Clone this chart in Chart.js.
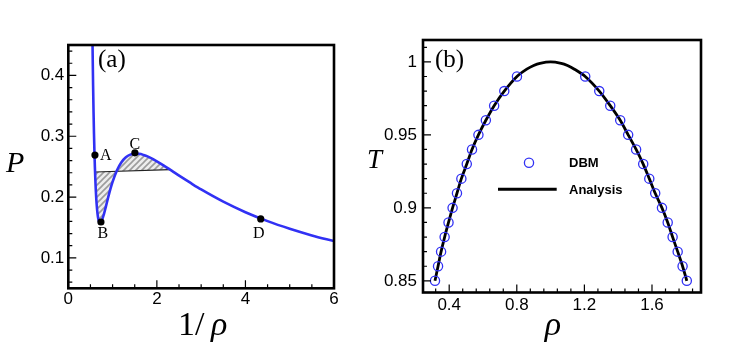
<!DOCTYPE html>
<html>
<head>
<meta charset="utf-8">
<script src="https://cdn.jsdelivr.net/npm/chart.js@4.4.1/dist/chart.umd.min.js"></script>
<style>
html, body { margin: 0; padding: 0; background: #fff; }
#wrap { position: relative; width: 747px; height: 349px; overflow: hidden; }
#boxA { position: absolute; left: 0; top: 0; }
#boxB { position: absolute; left: 360px; top: 0; }
</style>
</head>
<body>
<div id="wrap">
  <div id="boxA"><canvas id="chartA" width="360" height="349"></canvas></div>
  <div id="boxB"><canvas id="chartB" width="387" height="349"></canvas></div>
</div>
<script>
// (a) isotherm, pressure against specific volume 1/rho
var isoV = [0.54, 0.55, 0.56, 0.57, 0.58, 0.59, 0.60, 0.61, 0.62, 0.64, 0.66, 0.68, 0.70, 0.72, 0.75, 0.80,
    0.85, 0.90, 0.95, 1.0, 1.1, 1.2, 1.3, 1.4, 1.5, 1.6, 1.7, 1.8, 2.0, 2.2, 2.4, 2.6, 2.8, 3.0, 3.5, 4.0,
    4.5, 5.0, 5.5, 6.0];
var isoP = [0.4968, 0.4348, 0.3832, 0.3402, 0.3044, 0.2747, 0.2500, 0.2296, 0.2129, 0.1882, 0.1725, 0.1632,
    0.1586, 0.1575, 0.1600, 0.1708, 0.1848, 0.1993, 0.2130, 0.2250, 0.2441, 0.2572, 0.2653, 0.2698, 0.2714,
    0.2711, 0.2692, 0.2664, 0.2588, 0.2497, 0.2402, 0.2307, 0.2214, 0.2125, 0.1924, 0.1751, 0.1604, 0.1479,
    0.1370, 0.1276];
// equal-area line and the part of the isotherm it cuts off
var lineV = [0.604, 2.30];
var lineP = [0.2412, 0.2452];
var hatchV = [0.604, 0.61, 0.62, 0.64, 0.66, 0.68, 0.70, 0.72, 0.75, 0.80, 0.85, 0.90, 0.95, 1.0, 1.1, 1.2,
    1.3, 1.4, 1.5, 1.6, 1.7, 1.8, 2.0, 2.2, 2.3];
var hatchP = [0.2414, 0.2296, 0.2129, 0.1882, 0.1725, 0.1632, 0.1586, 0.1575, 0.1600, 0.1708, 0.1848, 0.1993,
    0.2130, 0.2250, 0.2441, 0.2572, 0.2653, 0.2698, 0.2714, 0.2711, 0.2692, 0.2664, 0.2588, 0.2497, 0.2450];
var stateNames = ["A", "B", "C", "D"];
var stateV = [0.602, 0.737, 1.504, 4.345];
var stateP = [0.269, 0.159, 0.2728, 0.164];
var xTicksA = [0, 2, 4, 6];
var yTicksA = [0.1, 0.2, 0.3, 0.4];

// (b) coexistence curve
var dbmT = [0.85, 0.86, 0.87, 0.88, 0.89, 0.90, 0.91, 0.92, 0.93, 0.94, 0.95, 0.96, 0.97, 0.98, 0.99];
var dbmGasRho = [0.316, 0.334, 0.352, 0.373, 0.396, 0.420, 0.446, 0.472, 0.504, 0.535, 0.573, 0.617, 0.666,
    0.726, 0.801];
var dbmLiqRho = [1.806, 1.781, 1.752, 1.722, 1.693, 1.659, 1.619, 1.584, 1.548, 1.506, 1.459, 1.412, 1.353,
    1.288, 1.205];
var fitRho = [0.316, 0.334, 0.352, 0.373, 0.396, 0.420, 0.446, 0.472, 0.504, 0.535, 0.573, 0.617, 0.666,
    0.726, 0.801, 0.859, 0.900, 0.937, 1.000, 1.063, 1.100, 1.141, 1.205, 1.288, 1.353, 1.412, 1.459, 1.506,
    1.548, 1.584, 1.619, 1.659, 1.693, 1.722, 1.752, 1.781, 1.806];
var fitT = [0.85, 0.86, 0.87, 0.88, 0.89, 0.90, 0.91, 0.92, 0.93, 0.94, 0.95, 0.96, 0.97, 0.98, 0.99, 0.995,
    0.9975, 0.999, 1.0, 0.999, 0.9975, 0.995, 0.99, 0.98, 0.97, 0.96, 0.95, 0.94, 0.93, 0.92, 0.91, 0.90,
    0.89, 0.88, 0.87, 0.86, 0.85];
var xTicksB = [0.4, 0.8, 1.2, 1.6];
var yTicksB = [0.85, 0.9, 0.95, 1];

var SANS = "'Liberation Sans', Arial, sans-serif";
var SERIF = "'Liberation Serif', 'Times New Roman', serif";
var BLUE = "#3131f4";

Chart.defaults.color = "#000";
Chart.defaults.font.family = SANS;
Chart.defaults.font.size = 17;

function xy(xs, ys) {
    return xs.map(function (x, i) { return { x: x, y: ys[i] }; });
}

function hatchPattern() {
    var c = document.createElement("canvas");
    c.width = 6;
    c.height = 6;
    var g = c.getContext("2d");
    g.fillStyle = "#ededed";
    g.fillRect(0, 0, 6, 6);
    g.strokeStyle = "#9c9c9c";
    g.lineWidth = 1.6;
    g.beginPath();
    g.moveTo(0, 6); g.lineTo(6, 0);
    g.moveTo(-1, 1); g.lineTo(1, -1);
    g.moveTo(5, 7); g.lineTo(7, 5);
    g.stroke();
    return g.createPattern(c, "repeat");
}

function minorValues(min, max, step) {
    var out = [];
    var n0 = Math.ceil(min / step - 1e-6);
    for (var n = n0; n * step <= max + 1e-9; n++) out.push(n * step);
    return out;
}

// box round the plot, ticks pointing in, then the text
var framePlugin = {
    id: "frame",
    afterDraw: function (chart, args, opts) {
        var ctx = chart.ctx, a = chart.chartArea;
        var xs = chart.scales.x, ys = chart.scales.y;
        ctx.save();
        ctx.strokeStyle = "#000";
        ctx.lineWidth = 1.2;
        ctx.beginPath();
        minorValues(xs.min, xs.max, opts.xMinor).forEach(function (v) {
            var px = xs.getPixelForValue(v);
            ctx.moveTo(px, a.bottom); ctx.lineTo(px, a.bottom - 4);
        });
        minorValues(ys.min, ys.max, opts.yMinor).forEach(function (v) {
            var py = ys.getPixelForValue(v);
            ctx.moveTo(a.left, py); ctx.lineTo(a.left + 4, py);
        });
        xs.ticks.forEach(function (t) {
            var px = xs.getPixelForValue(t.value);
            ctx.moveTo(px, a.bottom); ctx.lineTo(px, a.bottom - 8);
        });
        ys.ticks.forEach(function (t) {
            var py = ys.getPixelForValue(t.value);
            ctx.moveTo(a.left, py); ctx.lineTo(a.left + 8, py);
        });
        ctx.stroke();
        ctx.lineWidth = 2.6;
        ctx.strokeRect(a.left, a.top, a.right - a.left, a.bottom - a.top);

        ctx.fillStyle = "#000";
        (opts.notes || []).forEach(function (n) {
            ctx.font = n.font;
            ctx.textAlign = n.align || "left";
            ctx.textBaseline = "alphabetic";
            ctx.fillText(n.text, n.x, n.y);
        });
        if (opts.after) opts.after(chart, ctx);
        ctx.restore();
    }
};

function axisX(min, max, ticks, height, pad) {
    return {
        type: "linear", min: min, max: max,
        grid: { display: false, drawTicks: false }, border: { display: false },
        ticks: { padding: pad, maxRotation: 0, callback: function (v) { return String(v); } },
        afterBuildTicks: function (s) { s.ticks = ticks.map(function (v) { return { value: v }; }); },
        afterFit: function (s) { s.height = height; }
    };
}

function axisY(min, max, ticks, width, pad) {
    return {
        type: "linear", min: min, max: max,
        grid: { display: false, drawTicks: false }, border: { display: false },
        ticks: { padding: pad, callback: function (v) { return String(v); } },
        afterBuildTicks: function (s) { s.ticks = ticks.map(function (v) { return { value: v }; }); },
        afterFit: function (s) { s.width = width; }
    };
}

var stateOffsets = { A: [5, 4.5, "left"], B: [2, 16, "center"], C: [0, -4, "center"], D: [-2, 19, "center"] };

new Chart(document.getElementById("chartA"), {
    type: "line",
    data: {
        datasets: [
            { data: xy(stateV, stateP), showLine: false, pointRadius: 3.6, pointBackgroundColor: "#000",
              pointBorderWidth: 0 },
            { data: xy(isoV, isoP), borderColor: BLUE, borderWidth: 2.6, pointRadius: 0,
              cubicInterpolationMode: "monotone", fill: false },
            { data: xy(lineV, lineP), borderColor: "#222", borderWidth: 1.2, pointRadius: 0, fill: false },
            { data: xy(hatchV, hatchP), borderWidth: 0, borderColor: "rgba(0,0,0,0)", pointRadius: 0,
              cubicInterpolationMode: "monotone", fill: "-1", backgroundColor: hatchPattern() }
        ]
    },
    options: {
        responsive: false,
        animation: false,
        layout: { padding: { top: 45, right: 26, left: 0, bottom: 0 } },
        plugins: {
            legend: { display: false },
            tooltip: { enabled: false },
            frame: {
                xMinor: 0.5, yMinor: 0.02,
                notes: [
                    { text: "(a)", x: 98, y: 67, font: "25px " + SERIF },
                    { text: "P", x: 6, y: 172, font: "italic 30px " + SERIF },
                    { text: "1/", x: 178, y: 335, font: "34px " + SERIF },
                    { text: "\u03c1", x: 211, y: 335, font: "italic 34px " + SERIF }
                ],
                after: function (chart, ctx) {
                    var xs = chart.scales.x, ys = chart.scales.y;
                    ctx.font = "16px " + SERIF;
                    stateNames.forEach(function (name, i) {
                        var o = stateOffsets[name];
                        ctx.textAlign = o[2];
                        ctx.fillText(name, xs.getPixelForValue(stateV[i]) + o[0], ys.getPixelForValue(stateP[i]) + o[1]);
                    });
                }
            }
        },
        scales: {
            x: axisX(0, 6, xTicksA, 60.7, 1),
            y: axisY(0.05, 0.45, yTicksA, 68.3, 4)
        }
    },
    plugins: [framePlugin]
});

new Chart(document.getElementById("chartB"), {
    type: "line",
    data: {
        datasets: [
            { label: "DBM", data: xy(dbmGasRho.concat(dbmLiqRho), dbmT.concat(dbmT)), showLine: false,
              pointRadius: 4.6, pointBorderWidth: 1.3, pointBorderColor: BLUE,
              pointBackgroundColor: "rgba(0,0,0,0)" },
            { label: "Analysis", data: xy(fitRho, fitT), borderColor: "#000", borderWidth: 2.8,
              pointRadius: 0, tension: 0.3, fill: false }
        ]
    },
    options: {
        responsive: false,
        animation: false,
        layout: { padding: { top: 40, right: 46, left: 0, bottom: 0 } },
        plugins: {
            legend: { display: false },
            tooltip: { enabled: false },
            frame: {
                xMinor: 0.08, yMinor: 0.01,
                notes: [
                    { text: "(b)", x: 75, y: 67, font: "25px " + SERIF },
                    { text: "T", x: 7, y: 168, font: "italic 27px " + SERIF },
                    { text: "\u03c1", x: 193, y: 335, font: "italic 34px " + SERIF, align: "center" },
                    { text: "DBM", x: 209, y: 167, font: "bold 13px " + SANS },
                    { text: "Analysis", x: 209, y: 193.5, font: "bold 13px " + SANS }
                ],
                after: function (chart, ctx) {
                    ctx.strokeStyle = BLUE;
                    ctx.lineWidth = 1.3;
                    ctx.beginPath();
                    ctx.arc(169, 162.7, 4.6, 0, Math.PI * 2);
                    ctx.stroke();
                    ctx.strokeStyle = "#000";
                    ctx.lineWidth = 3;
                    ctx.beginPath();
                    ctx.moveTo(138, 189.3);
                    ctx.lineTo(196.7, 189.3);
                    ctx.stroke();
                }
            }
        },
        scales: {
            x: axisX(0.245, 1.89, xTicksB, 56.5, 3),
            y: axisY(0.842, 1.015, yTicksB, 63, 6)
        }
    },
    plugins: [framePlugin]
});
</script>
</body>
</html>
